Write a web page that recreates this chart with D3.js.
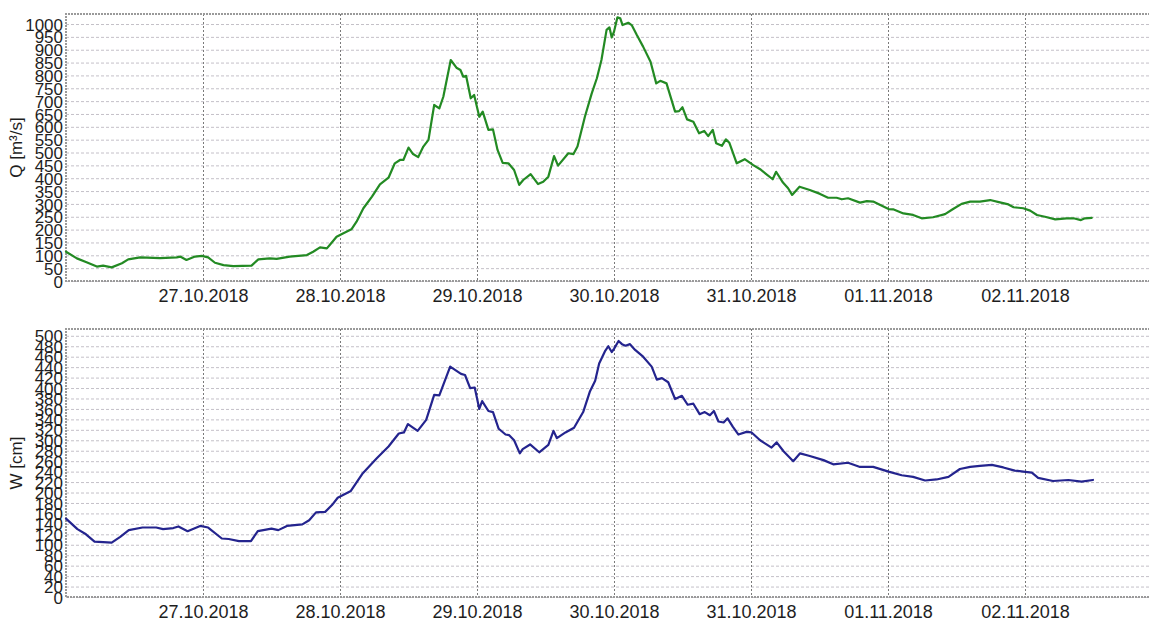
<!DOCTYPE html>
<html>
<head>
<meta charset="utf-8">
<script src="https://cdn.jsdelivr.net/npm/d3@7"></script>
<style>
  html, body { margin: 0; padding: 0; background: #fff; }
  svg { display: block; }
  text { font-family: "Liberation Sans", Arial, sans-serif; fill: #1e1e1e; }
</style>
</head>
<body>
<svg id="chart" width="1149" height="621"></svg>
<script>
// Hours since 26.10.2018 00:00 and discharge Q [m³/s]
const hoursQ = [0, 1.9, 3.6, 5.4, 6.5, 8.0, 9.8, 10.9, 13.0, 16.5, 19.4, 20.0, 21.1, 22.6, 23.8, 24.9,
  26.1, 27.6, 29.3, 32.5, 33.7, 35.7, 36.9, 39.2, 42.2, 43.3, 44.5, 45.7, 46.2, 47.4, 48.6, 50.0,
  50.9, 52.1, 53.6, 55.0, 56.5, 57.6, 58.5, 59.1, 60.0, 60.8, 61.7, 62.6, 63.5, 64.5, 65.4, 66.1,
  67.4, 68.4, 69.1, 69.6, 70.1, 70.9, 71.5, 72.4, 73.0, 74.0, 74.8, 75.6, 76.5, 77.5, 78.5, 79.4,
  80.1, 81.4, 82.7, 83.6, 84.5, 85.5, 86.2, 88.0, 88.9, 89.6, 90.9, 92.1, 93.0, 93.8, 94.7, 95.2,
  95.6, 96.0, 96.6, 97.1, 97.5, 98.5, 99.1, 100.0, 101.1, 102.4, 103.4, 104.1, 105.2, 106.7, 107.4, 108.0,
  108.8, 109.9, 110.9, 111.8, 112.5, 113.3, 113.9, 114.9, 115.6, 116.2, 117.5, 118.9, 120.4, 121.6, 122.5, 123.8,
  124.4, 125.6, 126.5, 127.2, 128.5, 130.3, 132.1, 133.5, 135.0, 135.9, 137.0, 139.1, 140.3, 141.4, 144.1, 144.9,
  146.7, 148.4, 149.9, 151.9, 154.0, 155.4, 156.9, 158.4, 160.1, 161.9, 163.6, 165.1, 166.0, 167.7, 168.9, 170.1,
  171.5, 173.3, 175.3, 176.5, 177.8, 178.5, 179.7];
const flowQ = [114, 88, 73, 56, 60, 53, 69, 84, 92, 89, 92, 95, 82, 95, 98, 92,
  71, 62, 58, 60, 84, 88, 86, 95, 101, 114, 131, 127, 140, 172, 186, 201,
  231, 283, 328, 376, 402, 458, 471, 471, 519, 494, 482, 523, 549, 685, 672, 717,
  860, 830, 821, 795, 798, 711, 724, 639, 659, 588, 590, 510, 460, 458, 432, 374,
  393, 416, 377, 386, 406, 486, 449, 497, 494, 523, 639, 730, 789, 860, 977, 987,
  948, 970, 1026, 1022, 996, 1005, 996, 957, 912, 853, 769, 779, 769, 659, 661, 676,
  629, 620, 575, 584, 564, 588, 536, 526, 551, 538, 458, 474, 451, 435, 419, 396,
  425, 383, 361, 335, 367, 354, 339, 324, 324, 318, 322, 305, 311, 309, 280, 279,
  263, 257, 244, 248, 260, 280, 300, 309, 309, 315, 306, 298, 287, 283, 274, 257,
  250, 240, 244, 244, 237, 244, 246];

// Hours since 26.10.2018 00:00 and water level W [cm]
const hoursW = [0, 2.0, 3.5, 5.0, 8.0, 9.5, 11.0, 13.4, 15.8, 17.0, 18.8, 19.7, 21.3, 23.5, 24.9, 27.3,
  28.5, 30.3, 32.4, 33.6, 36.0, 37.2, 38.7, 41.4, 42.6, 43.8, 45.4, 46.6, 47.6, 49.9, 52.0, 54.4,
  56.5, 58.3, 59.2, 59.9, 61.6, 63.1, 64.5, 65.4, 67.3, 69.2, 69.9, 70.8, 71.6, 72.4, 72.9, 74.0,
  74.8, 75.8, 77.0, 77.6, 78.5, 79.5, 80.0, 81.3, 82.9, 84.5, 85.4, 86.0, 87.5, 89.0, 90.6, 91.8,
  92.7, 93.4, 94.4, 95.0, 95.6, 96.0, 96.8, 97.4, 98.0, 98.8, 99.7, 101.1, 102.6, 103.5, 104.4, 105.5,
  106.7, 107.9, 108.9, 109.9, 111.0, 111.9, 112.8, 113.5, 114.3, 115.2, 115.9, 116.8, 117.8, 119.2, 120.1, 121.6,
  123.6, 124.5, 125.7, 127.4, 128.6, 130.3, 132.7, 134.4, 137.0, 139.1, 141.4, 144.1, 146.4, 148.4, 150.5, 152.5,
  154.6, 156.6, 158.4, 160.1, 162.2, 164.2, 166.2, 167.7, 169.2, 170.3, 172.9, 175.6, 177.9, 179.9];
const levelW = [150, 130, 120, 106, 104, 115, 128, 133, 133, 130, 132, 135, 126, 136, 133, 112,
  111, 107, 107, 126, 131, 128, 136, 139, 147, 162, 163, 176, 190, 203, 237, 265,
  288, 313, 315, 331, 318, 339, 387, 386, 441, 427, 425, 400, 401, 360, 375, 356,
  354, 322, 311, 310, 300, 275, 283, 292, 277, 291, 318, 304, 315, 324, 354, 394,
  414, 447, 470, 480, 469, 475, 490, 484, 481, 484, 473, 460, 441, 416, 419, 411,
  379, 385, 368, 370, 350, 354, 348, 356, 336, 334, 342, 326, 311, 316, 315, 300,
  286, 296, 279, 260, 275, 270, 262, 254, 257, 249, 249, 240, 233, 230, 223, 225,
  230, 245, 249, 251, 253, 248, 242, 240, 238, 228, 222, 224, 221, 224];

// Axis ticks
const xTickLabels = ["27.10.2018", "28.10.2018", "29.10.2018", "30.10.2018", "31.10.2018", "01.11.2018", "02.11.2018"];
const qTicks = d3.range(0, 1001, 50);
const wTicks = d3.range(0, 501, 20);

const svg = d3.select("#chart");
const parseDay = d3.timeParse("%d.%m.%Y");
const fmtDay = d3.timeFormat("%d.%m.%Y");
const t0 = new Date(2018, 9, 26, 0, 0);
const t1 = new Date(2018, 10, 3, 0, 0);
const atHour = h => new Date(t0.getTime() + h * 3600 * 1000);

const x = d3.scaleTime().domain([t0, t1]).range([66, 1162]);

function panel(cfg) {
  const y = d3.scaleLinear().domain([0, cfg.yMax]).range([cfg.bottom, cfg.top]);
  const g = svg.append("g");

  // horizontal grid
  g.append("g").selectAll("line").data(cfg.ticks).join("line")
    .attr("x1", x.range()[0]).attr("x2", x.range()[1])
    .attr("y1", d => y(d) + 0.5).attr("y2", d => y(d) + 0.5)
    .attr("stroke", "#c4c0c8").attr("stroke-width", 1).attr("stroke-dasharray", "3,2");

  // vertical day grid
  const days = xTickLabels.map(parseDay);
  g.append("g").selectAll("line").data(days).join("line")
    .attr("x1", d => Math.round(x(d)) + 0.5).attr("x2", d => Math.round(x(d)) + 0.5)
    .attr("y1", cfg.top).attr("y2", cfg.bottom)
    .attr("stroke", "#7a7a7a").attr("stroke-width", 1).attr("stroke-dasharray", "2,2");

  // frame
  g.append("path")
    .attr("d", `M${x.range()[1]},${cfg.top}H${x.range()[0]}V${cfg.bottom}H${x.range()[1]}`)
    .attr("fill", "none").attr("stroke", "#9a9a9a").attr("stroke-width", 2).attr("stroke-dasharray", "2,1");

  // y axis labels
  const yAxis = d3.axisLeft(y).tickValues(cfg.ticks).tickSize(0).tickPadding(0).tickFormat(d3.format("d"));
  const ya = g.append("g").attr("transform", "translate(63,0)").call(yAxis);
  ya.select(".domain").remove();
  ya.selectAll("text").attr("font-size", 17).attr("font-family", "Liberation Sans, Arial, sans-serif")
    .attr("fill", "#1e1e1e").attr("dy", "0.36em");

  // x axis labels
  const xAxis = d3.axisBottom(x).tickValues(days).tickSize(0).tickPadding(0).tickFormat(fmtDay);
  const xa = g.append("g").attr("transform", `translate(0,${cfg.bottom})`).call(xAxis);
  xa.select(".domain").remove();
  xa.selectAll("text").attr("font-size", 18).attr("font-family", "Liberation Sans, Arial, sans-serif")
    .attr("fill", "#1e1e1e").attr("y", 0).attr("dy", "21px");

  // axis title
  g.append("text")
    .attr("transform", `translate(22,${(cfg.top + cfg.bottom) / 2}) rotate(-90)`)
    .attr("text-anchor", "middle").attr("font-size", 17)
    .text(cfg.title);

  // series line
  const line = d3.line().x(d => x(d[0])).y(d => y(d[1]));
  const pts = cfg.hours.map((h, i) => [atHour(h), cfg.values[i]]);
  g.append("path").datum(pts)
    .attr("d", line).attr("fill", "none")
    .attr("stroke", cfg.color).attr("stroke-width", 2.2)
    .attr("stroke-linejoin", "round").attr("stroke-linecap", "round");
}

panel({ top: 14, bottom: 281, yMax: 1039, ticks: qTicks, title: "Q [m³/s]",
        hours: hoursQ, values: flowQ, color: "#238a23" });
panel({ top: 329, bottom: 597, yMax: 513, ticks: wTicks, title: "W [cm]",
        hours: hoursW, values: levelW, color: "#24248e" });
</script>
</body>
</html>
